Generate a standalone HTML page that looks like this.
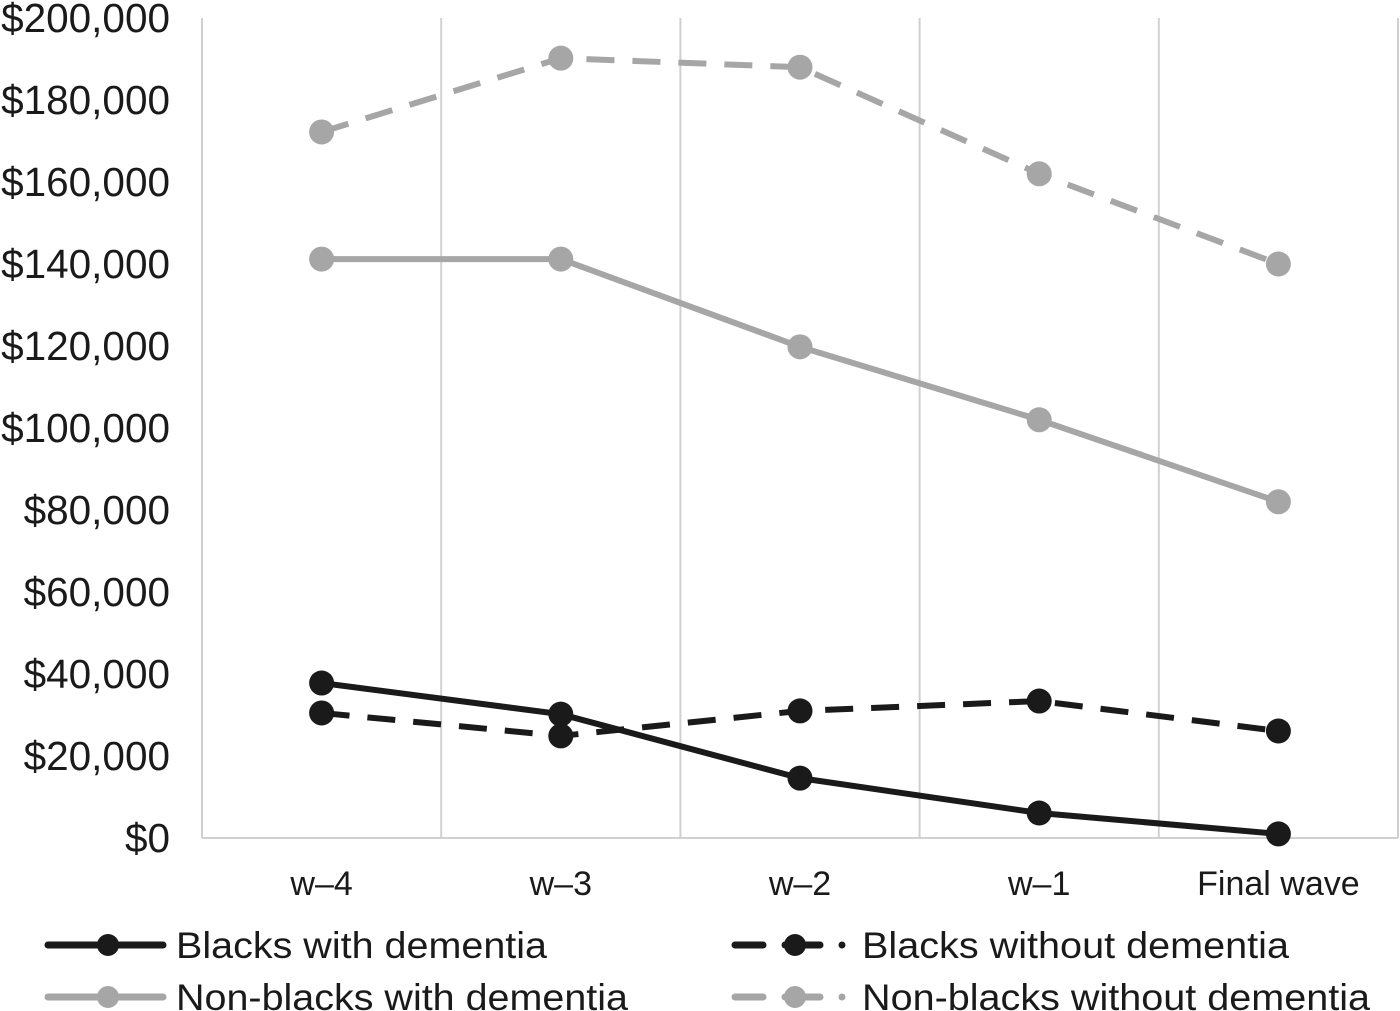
<!DOCTYPE html>
<html><head><meta charset="utf-8"><style>
html,body{margin:0;padding:0;background:#fff;}
svg{display:block;font-family:"Liberation Sans",Arial,sans-serif;}
</style></head><body>
<svg id="chart" width="1400" height="1011" viewBox="0 0 1400 1011">
<g id="grid"></g>
<g id="yaxis"></g>
<g id="xaxis"></g>
<g id="series"></g>
<g id="legend"></g>
</svg>
<script>
const categories = ["w\u20134","w\u20133","w\u20132","w\u20131","Final wave"];
const yTicks = [0,20000,40000,60000,80000,100000,120000,140000,160000,180000,200000];
const blacksWithDementia = [37800,30200,14600,6100,1000];
const blacksWithoutDementia = [30500,24900,31000,33400,26100];
const nonBlacksWithDementia = [141200,141200,119800,102000,82000];
const nonBlacksWithoutDementia = [172200,190200,188000,162000,140000];

const NS="http://www.w3.org/2000/svg";
const L=202,R=1398,T=18,B=838,YMAX=200000;
const band=(R-L)/categories.length;
function xs(i){return L+band*(i+0.5);}
function ys(v){return B-(v/YMAX)*(B-T);}
function mk(tag,attrs,parent){const e=document.createElementNS(NS,tag);for(const k in attrs)e.setAttribute(k,attrs[k]);parent.appendChild(e);return e;}
const grid=document.getElementById('grid'),yax=document.getElementById('yaxis'),xax=document.getElementById('xaxis'),ser=document.getElementById('series'),leg=document.getElementById('legend');
for(let i=0;i<=categories.length;i++){
  const g=mk('line',{x1:L+band*i,x2:L+band*i,y1:T,y2:B,stroke:'#d0d0d0','stroke-width':2},grid);
  
  
}
const ax=mk('line',{x1:L,x2:R,y1:B,y2:B,stroke:'#d0d0d0','stroke-width':2},grid);


yTicks.forEach(v=>{
  const t=mk('text',{x:170,y:ys(v)+14,'text-anchor':'end','font-size':40.5,fill:'#1a1a1a'},yax);
  t.textContent='$'+v.toLocaleString('en-US');
  
  
});
categories.forEach((c,i)=>{
  const t=mk('text',{x:xs(i),y:895,'text-anchor':'middle','font-size':34,fill:'#1a1a1a'},xax);
  t.textContent=c;
  
  
});
const seriesDefs=[
  {name:'Non-blacks without dementia',data:nonBlacksWithoutDementia,color:'#a6a6a6',dash:'28 18',id:'non-blacks-without-dementia'},
  {name:'Non-blacks with dementia',data:nonBlacksWithDementia,color:'#a6a6a6',dash:'',id:'non-blacks-with-dementia'},
  {name:'Blacks without dementia',data:blacksWithoutDementia,color:'#1a1a1a',dash:'28 18',id:'blacks-without-dementia'},
  {name:'Blacks with dementia',data:blacksWithDementia,color:'#1a1a1a',dash:'',id:'blacks-with-dementia'}
];
seriesDefs.forEach(s=>{
  const g=mk('g',{},ser);
  
  
  const pts=s.data.map((v,i)=>xs(i)+','+ys(v)).join(' ');
  const p=mk('polyline',{points:pts,fill:'none',stroke:s.color,'stroke-width':6,'stroke-dasharray':s.dash,'stroke-linejoin':'round'},g);
  
  
  s.data.forEach((v,i)=>{
    const c=mk('circle',{cx:xs(i),cy:ys(v),r:12.5,fill:s.color},g);
    
    
  });
});
const legendDefs=[
  {name:'Blacks with dementia',color:'#1a1a1a',dash:false,x:48,y:945,tw:371},
  {name:'Blacks without dementia',color:'#1a1a1a',dash:true,x:735,y:945,tw:427},
  {name:'Non-blacks with dementia',color:'#a6a6a6',dash:false,x:48,y:997,tw:452},
  {name:'Non-blacks without dementia',color:'#a6a6a6',dash:true,x:735,y:997,tw:508}
];
legendDefs.forEach(l=>{
  const g=mk('g',{},leg);
  
  
  if(l.dash){
    mk('line',{x1:l.x,x2:l.x+28,y1:l.y,y2:l.y,stroke:l.color,'stroke-width':7,'stroke-linecap':'round'},g);
    mk('line',{x1:l.x+50,x2:l.x+85,y1:l.y,y2:l.y,stroke:l.color,'stroke-width':7,'stroke-linecap':'round'},g);
    mk('circle',{cx:l.x+107,cy:l.y,r:3.5,fill:l.color},g);
  } else {
    mk('line',{x1:l.x,x2:l.x+115,y1:l.y,y2:l.y,stroke:l.color,'stroke-width':7,'stroke-linecap':'round'},g);
  }
  mk('circle',{cx:l.x+60,cy:l.y,r:11,fill:l.color},g);
  const t=mk('text',{x:l.dash?l.x+127:l.x+128,y:l.y+13,'font-size':37,fill:'#1a1a1a',textLength:l.tw,lengthAdjust:'spacingAndGlyphs'},g);
  t.textContent=l.name;
  
  
});
</script>
</body></html>
